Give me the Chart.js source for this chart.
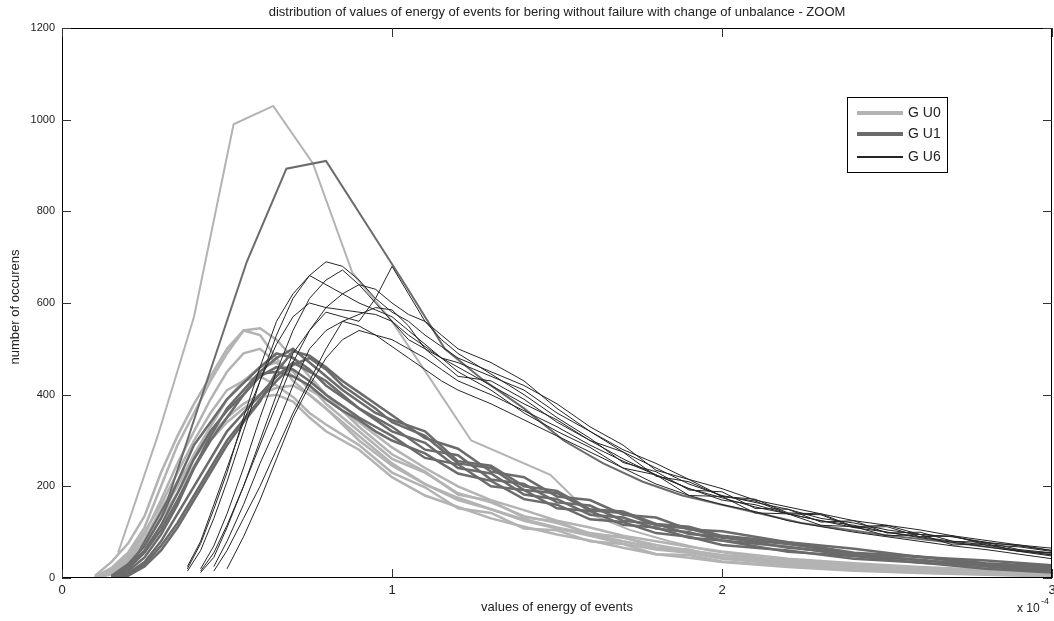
<!DOCTYPE html>
<html>
<head>
<meta charset="utf-8">
<script src="https://cdn.jsdelivr.net/npm/chart.js@4.4.0/dist/chart.umd.min.js"></script>
<style>
  html, body { margin: 0; padding: 0; background: #fff; }
  #wrap { width: 1054px; height: 621px; position: relative; }
</style>
</head>
<body>
<div id="wrap"><canvas id="myChart"></canvas></div>
<script>
/* data, x in units of 1e-4 */

let titleText = 'distribution of values of energy of events for bering without failure with change of unbalance - ZOOM';
let legendLabels = ['G U0', 'G U1', 'G U6'];
let xTicks = [0, 1, 2, 3];
let yTicks = [0, 200, 400, 600, 800, 1000, 1200];

/*G U0 - light curves*/
let lightX = [0.10, 0.15, 0.20, 0.25, 0.30, 0.35, 0.40, 0.45, 0.50, 0.55, 0.60, 0.65, 0.70, 0.75, 0.80, 0.90, 1.00, 1.10, 1.20, 1.30, 1.40, 1.50, 1.60, 1.70, 1.80, 1.90, 2.00, 2.20, 2.40, 2.60, 2.80, 3.00];
let light1 = [2, 22, 55, 110, 200, 290, 360, 430, 490, 540, 545, 520, 480, 440, 400, 330, 270, 232, 182, 168, 132, 124, 95, 90, 66, 62, 45, 35, 25, 18, 12, 8];
let light2 = [5, 35, 75, 135, 230, 310, 380, 440, 500, 540, 530, 480, 430, 400, 370, 300, 245, 205, 170, 150, 125, 108, 92, 75, 62, 55, 42, 30, 22, 15, 10, 5];
let light3 = [0, 15, 45, 95, 170, 250, 320, 390, 450, 490, 500, 470, 440, 420, 380, 320, 260, 230, 185, 165, 135, 120, 98, 88, 72, 60, 50, 38, 28, 20, 14, 10];
let light4 = [0, 10, 35, 80, 140, 200, 270, 330, 390, 430, 460, 470, 450, 410, 390, 340, 285, 240, 200, 170, 148, 125, 110, 92, 80, 68, 58, 42, 32, 24, 18, 12];
let light5 = [3, 20, 50, 100, 160, 230, 300, 360, 410, 430, 440, 420, 395, 360, 335, 290, 230, 198, 152, 142, 108, 104, 80, 74, 52, 50, 36, 26, 18, 12, 8, 4];
let light6 = [0, 12, 40, 85, 150, 210, 260, 310, 350, 380, 400, 415, 420, 400, 370, 310, 250, 205, 175, 150, 128, 110, 96, 80, 66, 56, 46, 33, 24, 17, 11, 6];
let light7 = [0, 8, 30, 70, 130, 185, 245, 300, 340, 370, 395, 400, 385, 350, 320, 280, 220, 180, 155, 130, 112, 95, 82, 66, 52, 44, 35, 24, 16, 11, 7, 3];
let lightPeakX = [0.17, 0.29, 0.40, 0.52, 0.64, 0.76, 0.88, 1.00, 1.12, 1.24, 1.48, 1.60, 1.72, 1.84, 1.96, 2.08, 2.20, 2.44, 2.68, 2.92, 3.00];
let lightPeak = [55, 310, 570, 990, 1030, 905, 666, 560, 430, 300, 225, 140, 105, 80, 60, 48, 35, 25, 15, 8, 6];

/*G U1 - medium curves*/
let midX = [0.15, 0.20, 0.25, 0.30, 0.35, 0.40, 0.45, 0.50, 0.55, 0.60, 0.65, 0.70, 0.75, 0.80, 0.85, 0.90, 0.95, 1.00, 1.10, 1.20, 1.30, 1.40, 1.50, 1.60, 1.70, 1.80, 1.90, 2.00, 2.20, 2.40, 2.60, 2.80, 3.00];
let mid1 = [0, 15, 45, 95, 160, 240, 310, 370, 410, 450, 480, 500, 470, 440, 410, 385, 360, 345, 320, 255, 245, 200, 190, 150, 145, 118, 112, 92, 78, 55, 47, 32, 25];
let mid2 = [5, 30, 70, 130, 210, 290, 340, 390, 425, 460, 490, 480, 455, 420, 395, 370, 350, 330, 280, 268, 215, 205, 165, 158, 125, 118, 96, 90, 66, 54, 38, 30, 18];
let mid3 = [0, 10, 35, 80, 140, 200, 260, 320, 360, 400, 440, 470, 450, 430, 400, 370, 345, 320, 295, 240, 228, 182, 172, 138, 132, 108, 100, 82, 68, 48, 40, 25, 15];
let mid4 = [0, 8, 30, 70, 120, 180, 240, 300, 345, 390, 430, 465, 480, 455, 420, 395, 370, 340, 310, 250, 240, 192, 185, 148, 142, 115, 108, 88, 74, 53, 46, 30, 22];
let mid5 = [3, 25, 60, 115, 185, 260, 320, 365, 400, 440, 460, 455, 430, 400, 375, 350, 330, 310, 262, 248, 200, 192, 152, 146, 116, 110, 88, 82, 57, 48, 33, 26, 14];
let mid6 = [0, 5, 25, 60, 110, 170, 230, 290, 340, 385, 450, 495, 485, 460, 430, 405, 380, 355, 305, 282, 232, 220, 178, 170, 138, 132, 106, 102, 78, 64, 46, 38, 28];
let mid7 = [2, 20, 55, 105, 170, 240, 300, 350, 400, 445, 450, 440, 420, 390, 365, 345, 320, 300, 272, 228, 212, 172, 160, 128, 122, 98, 90, 72, 60, 42, 34, 20, 12];
let midPeakX = [0.20, 0.32, 0.44, 0.56, 0.68, 0.80, 0.92, 1.04, 1.16, 1.28, 1.40, 1.52, 1.64, 1.76, 1.88, 2.00, 2.24, 2.48, 2.72, 2.96, 3.00];
let midPeak = [15, 170, 432, 690, 893, 910, 775, 640, 500, 430, 370, 300, 250, 210, 180, 160, 120, 95, 75, 55, 52];

/*G U6 - dark thin curves*/
let darkX = [0.38, 0.42, 0.46, 0.50, 0.55, 0.60, 0.65, 0.70, 0.75, 0.80, 0.85, 0.90, 0.95, 1.00, 1.05, 1.10, 1.15, 1.20, 1.30, 1.40, 1.50, 1.60, 1.70, 1.80, 1.90, 2.00, 2.10, 2.20, 2.30, 2.40, 2.50, 2.60, 2.70, 2.80, 2.90, 3.00];
let dark1 = [15, 60, 130, 210, 320, 430, 530, 610, 660, 690, 680, 650, 610, 580, 560, 530, 505, 480, 450, 420, 380, 330, 290, 235, 215, 178, 168, 140, 138, 110, 112, 90, 92, 72, 68, 58];
let dark2 = [null, 20, 70, 140, 240, 350, 450, 540, 610, 650, 672, 640, 600, 560, 530, 505, 480, 460, 420, 380, 345, 300, 260, 225, 195, 170, 160, 140, 125, 115, 100, 90, 80, 72, 60, 50];
let dark3 = [20, 75, 150, 230, 350, 460, 560, 620, 660, 640, 620, 600, 585, 570, 540, 510, 480, 450, 410, 360, 320, 285, 240, 225, 180, 178, 142, 140, 115, 112, 92, 95, 72, 75, 58, 55];
let dark4 = [null, 15, 55, 115, 200, 290, 380, 470, 540, 590, 620, 640, 630, 600, 575, 560, 530, 500, 470, 430, 370, 320, 275, 240, 205, 180, 165, 150, 130, 120, 105, 95, 90, 78, 70, 60];
let dark5 = [25, 80, 160, 240, 340, 430, 510, 570, 600, 590, 585, 580, 575, 560, 520, 500, 470, 440, 430, 390, 340, 300, 275, 222, 210, 178, 172, 142, 140, 112, 115, 95, 90, 76, 72, 60];
let dark6 = [null, null, 25, 80, 160, 250, 330, 420, 500, 540, 560, 575, 590, 585, 550, 500, 480, 470, 440, 410, 360, 320, 280, 250, 215, 195, 170, 155, 140, 125, 115, 105, 92, 82, 72, 65];
let dark7 = [null, null, 15, 60, 130, 200, 280, 360, 430, 500, 560, 550, 530, 520, 500, 480, 455, 430, 400, 365, 330, 290, 255, 225, 195, 175, 155, 140, 125, 110, 100, 88, 78, 68, 58, 48];
let dark8 = [null, 12, 45, 110, 200, 300, 400, 490, 540, 580, 570, 560, 610, 680, 620, 560, 520, 490, 445, 400, 350, 305, 252, 232, 192, 188, 152, 150, 122, 125, 98, 100, 80, 78, 62, 55];
let dark9 = [null, null, null, 20, 90, 170, 260, 350, 420, 480, 520, 540, 530, 505, 480, 455, 430, 410, 380, 345, 310, 275, 240, 205, 180, 160, 145, 125, 112, 100, 90, 80, 70, 62, 52, 42];

let lightColor = '#b3b3b3';
let midColor = '#6b6b6b';
let darkColor = '#262626';


function toPoints(xs, ys) {
    let points = [];
    for (let i = 0; i < xs.length; i++) {
        if (ys[i] !== null) points.push({ x: xs[i], y: ys[i] });
    }
    return points;
}


function makeDataset(xs, ys, color, width, order) {
    return {
        data: toPoints(xs, ys),
        borderColor: color,
        borderWidth: width,
        pointRadius: 0,
        fill: false,
        tension: 0,
        order: order
    };
}


function buildDatasets() {
    let sets = [];
    for (let ys of [dark1, dark2, dark3, dark4, dark5, dark6, dark7, dark8, dark9]) {
        sets.push(makeDataset(darkX, ys, darkColor, 1, 0));
    }
    sets.push(makeDataset(midPeakX, midPeak, midColor, 2, 1));
    for (let ys of [mid1, mid2, mid3, mid4, mid5, mid6, mid7]) {
        sets.push(makeDataset(midX, ys, midColor, 2.5, 1));
    }
    sets.push(makeDataset(lightPeakX, lightPeak, lightColor, 2, 2));
    for (let ys of [light1, light2, light3, light4, light5, light6, light7]) {
        sets.push(makeDataset(lightX, ys, lightColor, 2.5, 2));
    }
    return sets;
}

/*Frame, ticks, texts and legend*/

const framePlugin = {
    id: 'frame',
    afterDraw(chart) {
        const ctx = chart.ctx;
        const area = chart.chartArea;
        const xs = chart.scales.x;
        const ys = chart.scales.y;
        ctx.save();
        ctx.strokeStyle = '#000';
        ctx.lineWidth = 1;
        ctx.strokeRect(area.left + 0.5, area.top + 0.5, area.right - area.left - 1, area.bottom - area.top - 1);

        ctx.strokeStyle = '#333';
        ctx.beginPath();
        for (let v of yTicks) {
            let py = Math.round(ys.getPixelForValue(v)) + 0.5;
            ctx.moveTo(area.left, py);
            ctx.lineTo(area.left + 9, py);
            ctx.moveTo(area.right, py);
            ctx.lineTo(area.right - 9, py);
        }
        for (let v of xTicks) {
            let px = Math.round(xs.getPixelForValue(v)) + 0.5;
            ctx.moveTo(px, area.bottom);
            ctx.lineTo(px, area.bottom - 9);
            ctx.moveTo(px, area.top);
            ctx.lineTo(px, area.top + 9);
        }
        ctx.stroke();

        ctx.fillStyle = '#222';
        ctx.font = '13px "Liberation Sans", Arial, sans-serif';
        ctx.textAlign = 'center';
        ctx.textBaseline = 'middle';
        ctx.fillText(titleText, (area.left + area.right) / 2, 12);
        ctx.fillText('values of energy of events', (area.left + area.right) / 2, 607);

        ctx.save();
        ctx.translate(15, (area.top + area.bottom) / 2 + 4);
        ctx.rotate(-Math.PI / 2);
        ctx.fillText('number of occurens', 0, 0);
        ctx.restore();

        ctx.textAlign = 'left';
        ctx.font = '12px "Liberation Sans", Arial, sans-serif';
        ctx.fillText('x 10', 1017, 609);
        ctx.font = '9px "Liberation Sans", Arial, sans-serif';
        ctx.fillText('-4', 1041, 602);

        drawLegend(ctx);
        ctx.restore();
    }
};


function drawLegend(ctx) {
    const box = { left: 847, top: 97, width: 100, height: 75 };
    const colors = [lightColor, midColor, darkColor];
    const widths = [4, 4, 2];
    const rows = [113, 134, 157];
    ctx.fillStyle = '#fff';
    ctx.fillRect(box.left, box.top, box.width, box.height);
    ctx.strokeStyle = '#000';
    ctx.lineWidth = 1;
    ctx.strokeRect(box.left + 0.5, box.top + 0.5, box.width, box.height);
    ctx.font = '14px "Liberation Sans", Arial, sans-serif';
    ctx.textAlign = 'left';
    ctx.textBaseline = 'middle';
    for (let i = 0; i < legendLabels.length; i++) {
        ctx.strokeStyle = colors[i];
        ctx.lineWidth = widths[i];
        ctx.beginPath();
        ctx.moveTo(857, rows[i]);
        ctx.lineTo(903, rows[i]);
        ctx.stroke();
        ctx.fillStyle = '#222';
        ctx.fillText(legendLabels[i], 908, rows[i]);
    }
}


const tickFont = { family: '"Liberation Sans", Arial, sans-serif', size: 11 };

new Chart(document.getElementById('myChart'), {
    type: 'line',
    data: { datasets: buildDatasets() },
    plugins: [framePlugin],
    options: {
        responsive: true,
        maintainAspectRatio: false,
        animation: false,
        events: [],
        layout: { padding: { left: 0, right: 2, top: 28, bottom: 0 } },
        plugins: { legend: { display: false }, tooltip: { enabled: false }, title: { display: false } },
        scales: {
            x: {
                type: 'linear',
                min: 0,
                max: 3,
                grid: { display: false, drawTicks: false },
                border: { display: false },
                afterBuildTicks: (scale) => { scale.ticks = xTicks.map(v => ({ value: v })); },
                afterFit: (scale) => { scale.height = 43; scale.paddingLeft = 0; scale.paddingRight = 0; },
                ticks: { color: '#222', font: { family: tickFont.family, size: 13 }, padding: 5, maxRotation: 0, callback: (v) => String(v) }
            },
            y: {
                min: 0,
                max: 1200,
                grid: { display: false, drawTicks: false },
                border: { display: false },
                afterBuildTicks: (scale) => { scale.ticks = yTicks.map(v => ({ value: v })); },
                afterFit: (scale) => { scale.width = 62; scale.paddingTop = 0; scale.paddingBottom = 0; },
                ticks: { color: '#222', font: tickFont, padding: 7, callback: (v) => String(v) }
            }
        }
    }
});
</script>
</body>
</html>
